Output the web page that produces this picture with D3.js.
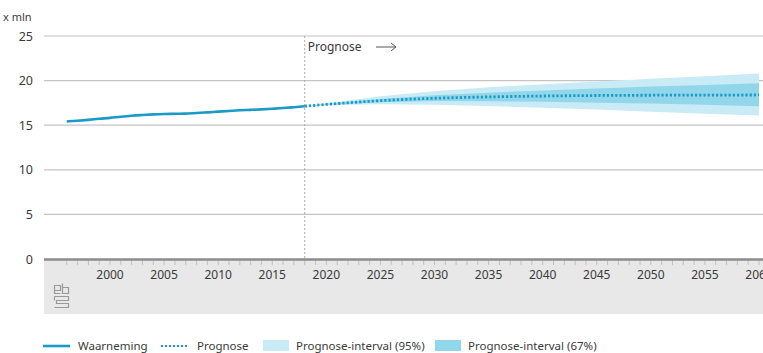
<!DOCTYPE html>
<html><head><meta charset="utf-8">
<script src="https://cdn.jsdelivr.net/npm/d3@7"></script>
<style>body{margin:0;background:#fff}svg{display:block}text{font-family:"Noto Sans",sans-serif;fill:#3a3a3a}</style>
</head><body>
<svg id="c" width="763" height="353"></svg>
<script>
// Observed data (x mln)
const obsYears = [1996,1997,1998,1999,2000,2001,2002,2003,2004,2005,2006,2007,2008,2009,2010,2011,2012,2013,2014,2015,2016,2017,2018];
const obsValues = [15.42,15.5,15.6,15.72,15.82,15.95,16.06,16.14,16.21,16.26,16.28,16.3,16.36,16.44,16.52,16.6,16.67,16.72,16.77,16.84,16.92,17.02,17.13];
// Forecast
const fcYears = [2018,2020,2025,2030,2035,2040,2045,2050,2055,2060];
const fcMedian = [17.13,17.33,17.75,18.02,18.17,18.27,18.33,18.36,18.37,18.39];
const fcLow95 = [17.13,17.25,17.35,17.3,17.15,16.95,16.75,16.5,16.28,16.08];
const fcHigh95 = [17.13,17.42,18.25,18.8,19.25,19.6,19.9,20.2,20.5,20.8];
const fcLow67 = [17.13,17.29,17.58,17.7,17.68,17.62,17.52,17.42,17.28,17.12];
const fcHigh67 = [17.13,17.38,17.95,18.35,18.65,18.9,19.12,19.33,19.52,19.7];
const yTicks = [0,5,10,15,20,25];
const xTicks = [2000,2005,2010,2015,2020,2025,2030,2035,2040,2045,2050,2055,2060];

const svg = d3.select("#c");
const x = d3.scaleLinear().domain([2000,2060]).range([110,759]);
const y = d3.scaleLinear().domain([0,25]).range([259,36]);
const left = 44, right = 763;

// gray band under axis
svg.append("rect").attr("x",left).attr("y",259).attr("width",right-left).attr("height",55).attr("fill","#e8e8e8");

// gridlines
svg.append("g").selectAll("line").data(yTicks.filter(d=>d>0)).join("line")
  .attr("x1",left).attr("x2",right).attr("y1",d=>y(d)).attr("y2",d=>y(d))
  .attr("stroke","#c4c4c4").attr("stroke-width",1.2);
// y labels
svg.append("g").selectAll("text").data(yTicks).join("text")
  .attr("x",33).attr("y",d=>y(d)+4.5).attr("text-anchor","end").attr("font-size",12.5).text(d=>d);
svg.append("text").attr("x",3).attr("y",21).attr("font-size",11).text("x mln");

// bands
const area = (lo,hi)=>d3.area().x((d,i)=>x(fcYears[i])).y0((d,i)=>y(lo[i])).y1((d,i)=>y(hi[i]));
svg.append("path").datum(fcYears).attr("d",area(fcLow95,fcHigh95)).attr("fill","#c9ebf5");
svg.append("path").datum(fcYears).attr("d",area(fcLow67,fcHigh67)).attr("fill","#92d6ec");

// x ticks (every year)
const minor = d3.range(1996,2062);
svg.append("g").selectAll("line").data(minor).join("line")
  .attr("x1",d=>x(d)).attr("x2",d=>x(d)).attr("y1",260).attr("y2",265)
  .attr("stroke","#c0c0c0").attr("stroke-width",1);
// axis line
svg.append("line").attr("x1",left).attr("x2",right).attr("y1",259.5).attr("y2",259.5).attr("stroke","#8c8c8c").attr("stroke-width",2.5);
svg.append("g").selectAll("text").data(xTicks).join("text")
  .attr("x",d=>x(d)).attr("y",279).attr("text-anchor","middle").attr("font-size",12).text(d=>d);

// forecast divider
svg.append("line").attr("x1",x(2018)).attr("x2",x(2018)).attr("y1",36).attr("y2",259)
  .attr("stroke","#aaa").attr("stroke-width",1).attr("stroke-dasharray","2,2");
svg.append("text").attr("x",x(2018)+3).attr("y",51).attr("font-size",12).text("Prognose");
svg.append("line").attr("x1",376).attr("x2",396).attr("y1",47).attr("y2",47).attr("stroke","#555").attr("stroke-width",1);
svg.append("path").attr("d","M391,43 L396,47 L391,51").attr("fill","none").attr("stroke","#555").attr("stroke-width",1);

// lines
const line = d3.line().x(d=>x(d[0])).y(d=>y(d[1])).curve(d3.curveMonotoneX);
svg.append("path").datum(obsYears.map((d,i)=>[d,obsValues[i]])).attr("d",line)
  .attr("fill","none").attr("stroke","#1a9ac6").attr("stroke-width",2.6);
svg.append("path").datum(fcYears.map((d,i)=>[d,fcMedian[i]])).attr("d",line)
  .attr("fill","none").attr("stroke","#1a9ac6").attr("stroke-width",2.8).attr("stroke-dasharray","2.2,2");

// cbs logo
const lg = svg.append("g").attr("fill","none").attr("stroke","#999").attr("stroke-width",1.2);
lg.append("path").attr("d","M54.5,285.5 h6 v5 h-6 z M54.5,290.5 v3 h6 M62.5,283.5 v10 h6 v-6 h-6 M54.5,296.5 h14 v4 h-12 v3 h12 v4 h-14 M54.5,296.5 v4");

// legend
const ly = 346;
svg.append("line").attr("x1",43).attr("x2",70).attr("y1",ly).attr("y2",ly).attr("stroke","#1a9ac6").attr("stroke-width",2.6);
svg.append("text").attr("x",78).attr("y",ly+4).attr("font-size",11.5).text("Waarneming");
svg.append("line").attr("x1",161).attr("x2",188).attr("y1",ly).attr("y2",ly).attr("stroke","#1a9ac6").attr("stroke-width",2.2).attr("stroke-dasharray","2,2");
svg.append("text").attr("x",197).attr("y",ly+4).attr("font-size",11.5).text("Prognose");
svg.append("rect").attr("x",263).attr("y",ly-6).attr("width",26).attr("height",11).attr("fill","#c9ebf5");
svg.append("text").attr("x",296).attr("y",ly+4).attr("font-size",11.5).text("Prognose-interval (95%)");
svg.append("rect").attr("x",435).attr("y",ly-6).attr("width",26).attr("height",11).attr("fill","#92d6ec");
svg.append("text").attr("x",468).attr("y",ly+4).attr("font-size",11.5).text("Prognose-interval (67%)");
</script>
</body></html>
